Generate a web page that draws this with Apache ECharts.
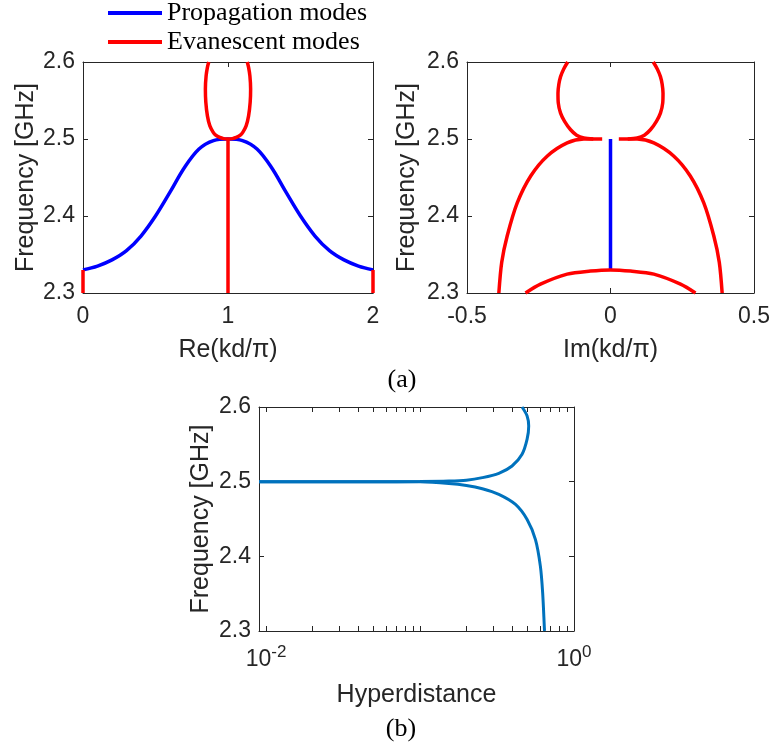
<!DOCTYPE html>
<html>
<head>
<meta charset="utf-8">
<script src="https://cdn.jsdelivr.net/npm/echarts@6/dist/echarts.min.js"></script>
<style>
  html, body { margin: 0; padding: 0; background: #fff; }
  #main { width: 772px; height: 753px; }
</style>
</head>
<body>
<div id="main"></div>
<script>
// ---- panel (a), left: frequency vs Re(kd/pi)
const reKd = [0, 0.1, 0.2, 0.3, 0.4, 0.5, 0.6, 0.7, 0.8, 0.9, 1.0, 1.1, 1.2, 1.3, 1.4, 1.5, 1.6, 1.7, 1.8, 1.9, 2.0]
const reFreq = [2.330, 2.335, 2.343, 2.355, 2.374, 2.400, 2.431, 2.463, 2.487, 2.498, 2.500,
  2.498, 2.487, 2.463, 2.431, 2.400, 2.374, 2.355, 2.343, 2.335, 2.330]
// evanescent pieces
const reEdgeLeft = [[0, 2.3], [0, 2.33]]
const reEdgeRight = [[2, 2.3], [2, 2.33]]
const reCenter = [[1, 2.3], [1, 2.5]]
const reLobeF = [2.5, 2.5005, 2.502, 2.505, 2.509, 2.517, 2.53, 2.548, 2.565, 2.582, 2.593, 2.6]
const reLobeLeftX = [1.0, 0.97, 0.943, 0.915, 0.897, 0.875, 0.858, 0.847, 0.844, 0.849, 0.858, 0.867]
const reLobeRightX = [1.0, 1.03, 1.057, 1.085, 1.103, 1.125, 1.142, 1.153, 1.156, 1.151, 1.142, 1.133]

// ---- panel (a), right: frequency vs Im(kd/pi)
const imBlue = [[0, 2.33], [0, 2.5]]
const imArcF = [2.3, 2.34, 2.374, 2.417, 2.452, 2.478, 2.495, 2.5, 2.5]
const imArcLeftX = [-0.389, -0.379, -0.360, -0.325, -0.278, -0.220, -0.151, -0.093, -0.029]
const imArcRightX = [0.389, 0.379, 0.360, 0.325, 0.278, 0.220, 0.151, 0.093, 0.029]
const imLobeF = [2.5, 2.5013, 2.505, 2.512, 2.523, 2.5336, 2.547, 2.5595, 2.571, 2.581, 2.591, 2.6]
const imLobeLeftX = [-0.06, -0.093, -0.118, -0.139, -0.160, -0.174, -0.182, -0.183, -0.180, -0.174, -0.163, -0.149]
const imLobeRightX = [0.06, 0.093, 0.118, 0.139, 0.160, 0.174, 0.182, 0.183, 0.180, 0.174, 0.163, 0.149]
const imLowX = [-0.296, -0.244, -0.151, -0.070, 0, 0.070, 0.151, 0.244, 0.296]
const imLowF = [2.3, 2.3115, 2.3245, 2.3285, 2.33, 2.3285, 2.3245, 2.3115, 2.3]

// ---- panel (b): frequency vs hyperdistance (log x)
const hdUpperX = [0.009, 0.05, 0.1, 0.154, 0.2, 0.254, 0.325, 0.396, 0.46, 0.496, 0.508, 0.496, 0.46]
const hdUpperF = [2.5, 2.5, 2.5002, 2.5008, 2.502, 2.5054, 2.5112, 2.521, 2.5367, 2.5569, 2.5747, 2.588, 2.6]
const hdLowerX = [0.009, 0.05, 0.1, 0.154, 0.2, 0.254, 0.325, 0.417, 0.496, 0.562, 0.605, 0.626, 0.643, 0.644]
const hdLowerF = [2.5, 2.5, 2.4998, 2.4977, 2.495, 2.4906, 2.483, 2.4695, 2.4493, 2.4224, 2.3866, 2.3508, 2.3015, 2.3]

// ticks
const freqTicks = [2.3, 2.4, 2.5, 2.6]
const hdMin = 0.009
const hdMax = 1
const hdLabelTicks = [0.01, 1]
const hdAllTicks = [0.01, 0.02, 0.03, 0.04, 0.05, 0.06, 0.07, 0.08, 0.09,
  0.1, 0.2, 0.3, 0.4, 0.5, 0.6, 0.7, 0.8, 0.9, 1]

const zip = (xs, ys) => xs.map((x, i) => [x, ys[i]])

const axisColor = '#262626'
const sans = '"Liberation Sans", Arial, Helvetica, sans-serif'
const serif = '"Liberation Serif", "Times New Roman", serif'
const BLUE = '#0000ff'
const RED = '#ff0000'

function baseAxis (gridIndex, position) {
  return {
    gridIndex: gridIndex,
    position: position,
    axisLine: { show: true, onZero: false, lineStyle: { color: axisColor, width: 1 } },
    axisTick: { show: true, inside: true, length: 5, lineStyle: { color: axisColor } },
    axisLabel: { show: false },
    splitLine: { show: false }
  }
}

function valueX (gridIndex, position, min, max, interval, name, labels) {
  const a = baseAxis(gridIndex, position)
  a.type = 'value'
  a.min = min
  a.max = max
  a.interval = interval
  if (labels) {
    a.axisLabel = { show: true, color: axisColor, fontFamily: sans, fontSize: 23, margin: 12 }
    a.name = name
    a.nameLocation = 'middle'
    a.nameGap = 45
    a.nameTextStyle = { color: axisColor, fontFamily: sans, fontSize: 25 }
  }
  return a
}

function freqY (gridIndex, position, labels, nameGap) {
  const a = baseAxis(gridIndex, position)
  a.type = 'value'
  a.min = freqTicks[0]
  a.max = freqTicks[freqTicks.length - 1]
  a.interval = 0.1
  if (labels) {
    a.axisLabel = {
      show: true, color: axisColor, fontFamily: sans, fontSize: 23, margin: 8,
      formatter: v => v.toFixed(1)
    }
    a.name = 'Frequency [GHz]'
    a.nameLocation = 'middle'
    a.nameGap = nameGap
    a.nameTextStyle = { color: axisColor, fontFamily: sans, fontSize: 25 }
  }
  return a
}

function hdOverlay (position, labels) {
  const a = baseAxis(2, position)
  a.type = 'value'
  a.min = Math.log10(hdMin)
  a.max = Math.log10(hdMax)
  a.axisTick.customValues = hdAllTicks.map(v => Math.log10(v))
  if (labels) {
    a.axisLabel = {
      show: true,
      margin: 13,
      customValues: hdLabelTicks.map(v => Math.log10(v)),
      formatter: v => '{b|10}{s|' + Math.round(v) + '}',
      rich: {
        b: { fontFamily: sans, fontSize: 23, color: axisColor, verticalAlign: 'bottom' },
        s: { fontFamily: sans, fontSize: 17, color: axisColor, verticalAlign: 'top', padding: [0, 0, 10, 0] }
      }
    }
    a.name = 'Hyperdistance'
    a.nameLocation = 'middle'
    a.nameGap = 52
    a.nameTextStyle = { color: axisColor, fontFamily: sans, fontSize: 25 }
  }
  return a
}

function line (name, data, color, xi, yi, width, smooth) {
  return {
    type: 'line',
    name: name,
    data: data,
    xAxisIndex: xi,
    yAxisIndex: yi,
    showSymbol: false,
    symbol: 'none',
    smooth: smooth,
    clip: false,
    silent: true,
    lineStyle: { color: color, width: width },
    itemStyle: { color: color }
  }
}

const myChart = echarts.init(document.getElementById('main'))
const option = {
  animation: false,
  backgroundColor: '#fff',
  grid: [
    { left: 83, top: 62, width: 290, height: 231, outerBoundsMode: 'none' },
    { left: 467, top: 62, width: 287, height: 231, outerBoundsMode: 'none' },
    { left: 259, top: 407, width: 315, height: 224, outerBoundsMode: 'none' }
  ],
  legend: [
    {
      data: ['Propagation modes'], left: 108, top: 0, padding: 0, icon: 'rect',
      itemWidth: 54, itemHeight: 4, selectedMode: false,
      textStyle: { fontFamily: serif, fontSize: 26, color: '#000' }
    },
    {
      data: ['Evanescent modes'], left: 108, top: 29, padding: 0, icon: 'rect',
      itemWidth: 54, itemHeight: 4, selectedMode: false,
      textStyle: { fontFamily: serif, fontSize: 26, color: '#000' }
    }
  ],
  xAxis: [
    valueX(0, 'bottom', 0, 2, 1, 'Re(kd/π)', true),
    valueX(0, 'top', 0, 2, 1, '', false),
    valueX(1, 'bottom', -0.5, 0.5, 0.5, 'Im(kd/π)', true),
    valueX(1, 'top', -0.5, 0.5, 0.5, '', false),
    { gridIndex: 2, type: 'log', logBase: 10, min: hdMin, max: hdMax, show: false },
    hdOverlay('bottom', true),
    hdOverlay('top', false)
  ],
  yAxis: [
    freqY(0, 'left', true, 44),
    freqY(0, 'right', false),
    freqY(1, 'left', true, 47),
    freqY(1, 'right', false),
    freqY(2, 'left', true, 45),
    freqY(2, 'right', false)
  ],
  series: [
    line('Propagation modes', zip(reKd, reFreq), BLUE, 0, 0, 3.5, 0.35),
    line('Evanescent modes', reEdgeLeft, RED, 0, 0, 3.5, false),
    line('Evanescent modes', reEdgeRight, RED, 0, 0, 3.5, false),
    line('Evanescent modes', reCenter, RED, 0, 0, 3.5, false),
    line('Evanescent modes', zip(reLobeLeftX, reLobeF), RED, 0, 0, 3.5, 0.3),
    line('Evanescent modes', zip(reLobeRightX, reLobeF), RED, 0, 0, 3.5, 0.3),

    line('Propagation modes', imBlue, BLUE, 2, 2, 3.5, false),
    line('Evanescent modes', zip(imArcLeftX, imArcF), RED, 2, 2, 3.5, 0.3),
    line('Evanescent modes', zip(imArcRightX, imArcF), RED, 2, 2, 3.5, 0.3),
    line('Evanescent modes', zip(imLobeLeftX, imLobeF), RED, 2, 2, 3.5, 0.3),
    line('Evanescent modes', zip(imLobeRightX, imLobeF), RED, 2, 2, 3.5, 0.3),
    line('Evanescent modes', zip(imLowX, imLowF), RED, 2, 2, 3.5, 0.3),

    line('Hyperdistance upper', zip(hdUpperX, hdUpperF), '#0072bd', 4, 4, 3, 0.3),
    line('Hyperdistance lower', zip(hdLowerX, hdLowerF), '#0072bd', 4, 4, 3, 0.3)
  ],
  graphic: [
    {
      type: 'text', x: 402, y: 380, silent: true,
      style: { text: '(a)', font: '26px ' + serif, fill: '#000', textAlign: 'center', align: 'center', textVerticalAlign: 'middle', verticalAlign: 'middle' }
    },
    {
      type: 'text', x: 401, y: 729, silent: true,
      style: { text: '(b)', font: '26px ' + serif, fill: '#000', textAlign: 'center', align: 'center', textVerticalAlign: 'middle', verticalAlign: 'middle' }
    }
  ]
}
myChart.setOption(option)
</script>
</body>
</html>
